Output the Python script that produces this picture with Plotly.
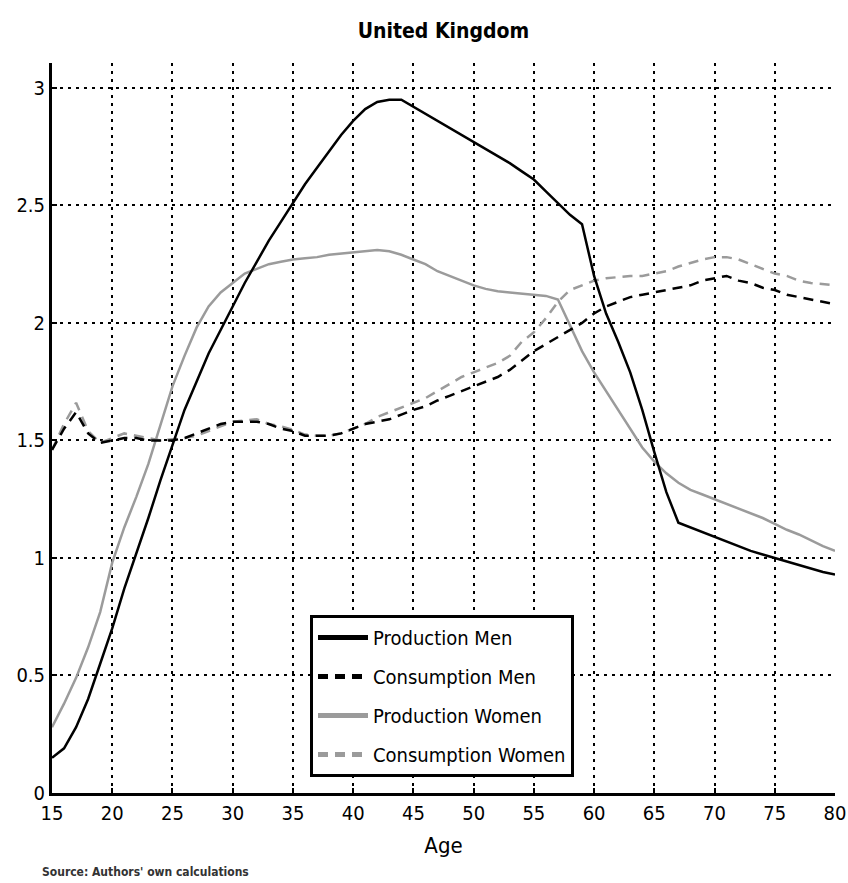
import plotly.graph_objects as go

ages = list(range(15, 81))

production_men = [0.15, 0.19, 0.28, 0.40, 0.55, 0.70, 0.87, 1.02, 1.17, 1.33,
                  1.48, 1.63, 1.75, 1.87, 1.97, 2.07, 2.17, 2.26, 2.35, 2.43,
                  2.51, 2.59, 2.66, 2.73, 2.80, 2.86, 2.91, 2.94, 2.95, 2.95,
                  2.92, 2.89, 2.86, 2.83, 2.80, 2.77, 2.74, 2.71, 2.68, 2.645,
                  2.61, 2.56, 2.51, 2.46, 2.42, 2.20, 2.04, 1.92, 1.79, 1.63,
                  1.45, 1.28, 1.15, 1.13, 1.11, 1.09, 1.07, 1.05, 1.03, 1.015,
                  1.00, 0.985, 0.97, 0.955, 0.94, 0.93]

consumption_men = [1.46, 1.55, 1.62, 1.53, 1.49, 1.50, 1.51, 1.51, 1.50, 1.50,
                   1.50, 1.51, 1.53, 1.55, 1.57, 1.58, 1.58, 1.58, 1.57, 1.55,
                   1.54, 1.52, 1.52, 1.52, 1.53, 1.55, 1.57, 1.58, 1.59, 1.61,
                   1.63, 1.645, 1.67, 1.69, 1.71, 1.73, 1.75, 1.77, 1.80, 1.84,
                   1.88, 1.91, 1.94, 1.97, 2.00, 2.04, 2.07, 2.09, 2.11, 2.12,
                   2.13, 2.14, 2.15, 2.16, 2.18, 2.19, 2.20, 2.18, 2.17, 2.15,
                   2.14, 2.12, 2.11, 2.10, 2.09, 2.08]

production_women = [0.28, 0.38, 0.49, 0.62, 0.77, 0.98, 1.13, 1.26, 1.40, 1.57,
                    1.73, 1.86, 1.98, 2.07, 2.13, 2.17, 2.21, 2.23, 2.25, 2.26,
                    2.27, 2.275, 2.28, 2.29, 2.295, 2.30, 2.305, 2.31, 2.305, 2.29,
                    2.27, 2.25, 2.22, 2.20, 2.18, 2.16, 2.145, 2.135, 2.13, 2.125,
                    2.12, 2.115, 2.10, 1.99, 1.88, 1.79, 1.71, 1.63, 1.55, 1.47,
                    1.41, 1.36, 1.32, 1.29, 1.27, 1.25, 1.23, 1.21, 1.19, 1.17,
                    1.145, 1.12, 1.10, 1.075, 1.05, 1.03]

consumption_women = [1.46, 1.57, 1.66, 1.54, 1.49, 1.51, 1.53, 1.52, 1.51, 1.50,
                     1.505, 1.51, 1.52, 1.54, 1.56, 1.58, 1.585, 1.59, 1.57, 1.56,
                     1.545, 1.525, 1.52, 1.52, 1.53, 1.55, 1.57, 1.60, 1.62, 1.64,
                     1.66, 1.68, 1.71, 1.74, 1.77, 1.79, 1.81, 1.83, 1.86, 1.92,
                     1.96, 2.02, 2.09, 2.14, 2.16, 2.18, 2.19, 2.195, 2.20, 2.20,
                     2.21, 2.22, 2.24, 2.255, 2.27, 2.28, 2.28, 2.27, 2.25, 2.23,
                     2.21, 2.20, 2.18, 2.17, 2.165, 2.16]

x_ticks = [15, 20, 25, 30, 35, 40, 45, 50, 55, 60, 65, 70, 75, 80]
y_ticks = [0, 0.5, 1, 1.5, 2, 2.5, 3]
y_tick_labels = ["0", "0.5", "1", "1.5", "2", "2.5", "3"]

FONT = "Liberation Sans Narrow, DejaVu Sans Condensed, Arial Narrow, Liberation Sans, sans-serif"
GRAY = "#9b9b9b"
DASH = "10px,7px"

series = [
    ("Production Men", production_men, "black", "solid"),
    ("Consumption Men", consumption_men, "black", DASH),
    ("Production Women", production_women, GRAY, "solid"),
    ("Consumption Women", consumption_women, GRAY, DASH),
]

fig = go.Figure()
# legend entries with thicker samples (added first to fix legend order)
for name, vals, col, dash in series:
    fig.add_trace(go.Scatter(x=[None], y=[None], mode="lines", name=name,
                             line=dict(color=col, width=5, dash=dash),
                             showlegend=True, legendgroup=name))
# data lines (women first so men sit on top)
for name, vals, col, dash in [series[3], series[2], series[1], series[0]]:
    fig.add_trace(go.Scatter(x=ages, y=vals, mode="lines", name=name,
                             line=dict(color=col, width=2.5, dash=dash),
                             showlegend=False, legendgroup=name))

fig.update_layout(
    width=848, height=883,
    margin=dict(l=52, r=13, t=63, b=90),
    paper_bgcolor="white", plot_bgcolor="white",
    font=dict(family=FONT, color="black", size=20),
    title=dict(text="<b>United Kingdom</b>", x=0.5, xref="paper", xanchor="center",
               y=0.965, yref="container", yanchor="middle",
               font=dict(family=FONT, size=21, color="black")),
    xaxis=dict(range=[15, 80], tickvals=x_ticks, ticktext=[str(t) for t in x_ticks],
               showline=True, linecolor="black", linewidth=3, mirror=False,
               showgrid=True, gridcolor="black", gridwidth=2, griddash="3px,5px",
               zeroline=False, ticks="inside", ticklen=5, tickcolor="black", tickwidth=2,
               tickfont=dict(size=20, family=FONT), automargin=False,
               title=dict(text="Age", font=dict(size=22, family=FONT), standoff=14)),
    yaxis=dict(range=[0, 3.106], tickvals=y_ticks, ticktext=y_tick_labels,
               showline=True, linecolor="black", linewidth=3, mirror=False,
               showgrid=True, gridcolor="black", gridwidth=2, griddash="3px,5px",
               zeroline=False, ticks="inside", ticklen=5, tickcolor="black", tickwidth=2,
               tickfont=dict(size=20, family=FONT), automargin=False),
    legend=dict(x=0.3295, y=0.2438, xanchor="left", yanchor="top",
                bgcolor="white", bordercolor="black", borderwidth=3,
                font=dict(size=20, family=FONT), itemwidth=50,
                tracegroupgap=10, traceorder="grouped"),
    annotations=[dict(text="<b>Source: Authors' own calculations</b>",
                      x=-0.015, xref="paper", xanchor="left",
                      y=-0.108, yref="paper", yanchor="middle",
                      showarrow=False,
                      font=dict(size=12, family=FONT, color="#333"))],
)

fig.write_html("out.html")
